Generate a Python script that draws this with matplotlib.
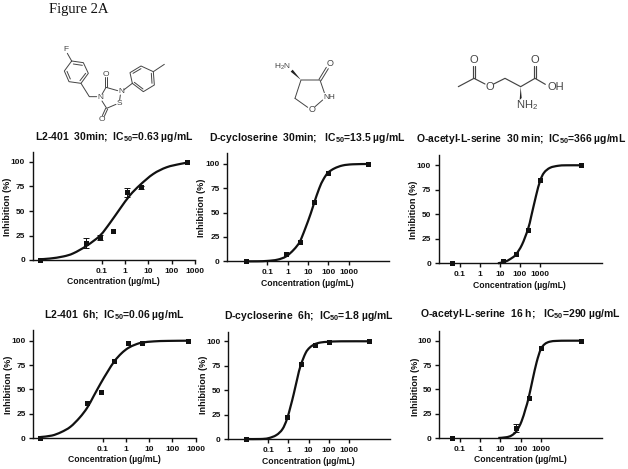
import numpy as np
import matplotlib
matplotlib.use("Agg")
import matplotlib.pyplot as plt
from matplotlib.path import Path
from matplotlib.patches import PathPatch

plt.rcParams["font.family"] = ["Liberation Sans", "DejaVu Sans"]
plt.rcParams["mathtext.fontset"] = "custom"
plt.rcParams["mathtext.bf"] = "Liberation Sans:bold"
plt.rcParams["mathtext.rm"] = "Liberation Sans"
plt.rcParams["mathtext.default"] = "bf"

W, H = 628, 469
INK = "#111111"

# ---------- data (log10 concentration, % inhibition) ----------
tick_values = [0.1, 1, 10, 100, 1000]
tick_labels = ["0.1", "1", "10", "100", "1000"]
y_ticks = [0, 25, 50, 75, 100]

titles = [
    "L2-401  30min;  IC$_{50}$=0.63 µg/mL",
    "D-cycloserine  30min;   IC$_{50}$=13.5 µg/mL",
    "O-acetyl-L-serine  30 min;  IC$_{50}$=366 µg/mL",
    "L2-401  6h;  IC$_{50}$=0.06 µg/mL",
    "D-cycloserine  6h;  IC$_{50}$=1.8 µg/mL",
    "O-acetyl-L-serine  16 h;   IC$_{50}$=290 µg/mL",
]

a_logx = [-3.65, -1.67, -1.07, -0.5, 0.1, 0.69, 2.67]
a_y = [0, 17, 23, 30, 69, 74, 100]
a_err = [0, 5, 3, 0, 4.5, 2, 0]
a_curve_x = [-3.65, -3.22, -2.65, -2.22, -1.64, -1.07, -0.64, -0.21, 0.21, 0.64, 1.21, 1.78, 2.36, 2.67]
a_curve_y = [0.8, 1.5, 3.6, 6.8, 14.6, 25, 38, 52.5, 66, 76.5, 87.8, 94.6, 98, 99.3]

b_logx = [-2.07, -0.08, 0.59, 1.3, 1.98, 3.97]
b_y = [0, 7, 20, 61, 91, 100]
b_err = [0, 0, 0, 0, 0, 0]
b_curve_x = [-2.07, -1.5, -1, -0.5, -0.08, 0.3, 0.59, 0.85, 1.13, 1.3, 1.55, 1.75, 1.98, 2.3, 2.7, 3.2, 3.97]
b_curve_y = [0, 0, 0.4, 1.7, 5, 12, 20, 33, 49, 60, 75, 84, 91, 95.5, 98.5, 99.7, 100]

c_logx = [-1.4, 1.17, 1.8, 2.4, 3.0, 5.02]
c_y = [0, 2, 9, 34, 85, 100]
c_err = [0, 0, 0, 0, 0, 0]
c_curve_x = [0.9, 1.3, 1.6, 1.8, 2.1, 2.4, 2.56, 2.8, 3.0, 3.2, 3.5, 3.9, 4.3, 5.02]
c_curve_y = [0, 2, 5.5, 9, 19, 35, 48, 69, 84, 92.5, 97.5, 99.5, 100, 100]

d_logx = [-3.69, -1.68, -1.1, -0.5, 0.09, 0.68, 2.67]
d_y = [0, 35.5, 47, 79, 98, 98, 100]
d_err = [0, 0, 0, 0, 0, 0, 0]
d_curve_x = [-3.69, -3.2, -2.8, -2.4, -2, -1.68, -1.4, -1.1, -0.8, -0.5, -0.2, 0.09, 0.4, 0.68, 1.2, 1.8, 2.67]
d_curve_y = [1, 2.5, 6, 11.5, 21, 31, 43, 56, 68, 79, 87, 92.5, 96, 98, 99.3, 99.8, 100]

e_logx = [-2.09, -0.08, 0.6, 1.3, 2.0, 4.0]
e_y = [0, 23, 77, 96, 99, 100]
e_err = [0, 0, 0, 0, 0, 0]
e_curve_x = [-2.09, -1.4, -1, -0.6, -0.3, -0.08, 0.1, 0.26, 0.45, 0.6, 0.85, 1.05, 1.3, 1.6, 2, 2.6, 4]
e_curve_y = [0, 0, 0.8, 4, 10, 20, 33, 46, 63, 75, 88, 93.5, 97, 98.8, 99.5, 100, 100]

f_logx = [-1.38, 1.8, 2.4, 3.0, 5.0]
f_y = [0, 10, 41, 93, 100]
f_err = [0, 4, 0, 0, 0]
f_curve_x = [0.9, 1.3, 1.55, 1.8, 2.05, 2.25, 2.4, 2.6, 2.8, 3.0, 3.2, 3.45, 3.8, 4.3, 5.0]
f_curve_y = [0, 0.8, 2.5, 7, 17, 30, 41, 60, 78, 91, 96.5, 99, 99.8, 100, 100]

series = [
    (a_logx, a_y, a_err, a_curve_x, a_curve_y),
    (b_logx, b_y, b_err, b_curve_x, b_curve_y),
    (c_logx, c_y, c_err, c_curve_x, c_curve_y),
    (d_logx, d_y, d_err, d_curve_x, d_curve_y),
    (e_logx, e_y, e_err, e_curve_x, e_curve_y),
    (f_logx, f_y, f_err, f_curve_x, f_curve_y),
]

# ---------- layout in pixels ----------
# left, right, y(0), y(100), top, log10 at left, log10 at right
frames = [
    (32.7, 195.0, 260.0, 162.0, 152.0, -3.96, 3.0),
    (227.3, 389.0, 261.3, 164.0, 153.3, -2.97, 4.98),
    (438.7, 601.7, 263.3, 165.3, 155.0, -2.05, 6.07),
    (33.3, 195.7, 438.0, 340.7, 330.0, -4.0, 3.0),
    (228.3, 390.0, 439.0, 341.3, 331.7, -2.98, 5.03),
    (439.3, 601.7, 438.0, 340.7, 330.7, -2.02, 6.02),
]
title_pos = [(114, 137), (307.5, 138), (521, 139), (114, 315), (309, 316), (520.5, 314)]
xlab_pos = [(113, 282), (307.7, 283), (519, 285), (114, 460), (308, 461), (520, 460)]
ylab_pos = [(8, 207), (201.7, 208), (414, 210), (9, 385), (203, 385), (415, 387)]

fig = plt.figure(figsize=(W / 100, H / 100), dpi=100, facecolor="white")

ov = fig.add_axes([0, 0, 1, 1], zorder=0)
ov.set_xlim(0, W)
ov.set_ylim(H, 0)
ov.axis("off")

ov.text(49, 9, "Figure 2A", family="Liberation Serif", fontsize=10.5, color=INK, va="center", ha="left")

for (fx, fy), t in zip(title_pos, titles):
    ov.text(fx, fy, t, fontsize=7.5, fontweight="bold", color=INK, ha="center", va="center")
for (fx, fy) in xlab_pos:
    ov.text(fx, fy, "Concentration (µg/mL)", fontsize=6.2, fontweight="bold", color=INK, ha="center", va="center")
for (fx, fy) in ylab_pos:
    ov.text(fx, fy, "Inhibition (%)", fontsize=6.6, fontweight="bold", color=INK, ha="center", va="center", rotation=90)


def smooth_line(ax, cx, cy):
    px = np.array(cx, float)
    py = np.array(cy, float)
    verts = [(10.0 ** px[0], py[0])]
    codes = [Path.MOVETO]
    n = len(px)
    for i in range(n - 1):
        p0 = max(i - 1, 0)
        p3 = min(i + 2, n - 1)
        c1x = px[i] + (px[i + 1] - px[p0]) / 6
        c1y = py[i] + (py[i + 1] - py[p0]) / 6
        c2x = px[i + 1] - (px[p3] - px[i]) / 6
        c2y = py[i + 1] - (py[p3] - py[i]) / 6
        verts += [(10.0 ** c1x, c1y), (10.0 ** c2x, c2y), (10.0 ** px[i + 1], py[i + 1])]
        codes += [Path.CURVE4] * 3
    ax.add_patch(PathPatch(Path(verts, codes), fc="none", ec=INK, lw=1.6, clip_on=False, zorder=3))


for (l, r, y0, y100, top, lx0, lx1), (lx, y, err, cx, cy) in zip(frames, series):
    ax = fig.add_axes([l / W, 1 - y0 / H, (r - l) / W, (y0 - top) / H], zorder=2)
    ax.patch.set_alpha(0)
    ax.set_xscale("log")
    ax.set_xlim(10.0 ** lx0, 10.0 ** lx1)
    ax.set_ylim(0, 100 * (y0 - top) / (y0 - y100))
    for s in ("top", "right"):
        ax.spines[s].set_visible(False)
    for s in ("left", "bottom"):
        ax.spines[s].set_linewidth(1.0)
        ax.spines[s].set_color(INK)
    ax.set_xticks(tick_values)
    ax.set_xticklabels(tick_labels)
    ax.minorticks_off()
    ax.set_yticks(y_ticks)
    ax.tick_params(axis="both", length=3, width=1.0, color=INK, labelsize=6, pad=2.5, labelcolor=INK)
    for lab in ax.get_xticklabels() + ax.get_yticklabels():
        lab.set_fontweight("bold")
    smooth_line(ax, cx, cy)
    ex = 10.0 ** np.array(lx)
    has = np.array(err) > 0
    if has.any():
        ax.errorbar(ex[has], np.array(y)[has], yerr=np.array(err)[has], fmt="none", ecolor=INK,
                    elinewidth=0.7, capsize=2, capthick=0.7, clip_on=False, zorder=3)
    ax.plot(ex, y, "s", color=INK, ms=3.6, mew=0, clip_on=False, zorder=4)

# ---------- decorative structural formulas (pixels) ----------
GREY = "#444444"


def bonds(pts, ox, oy, lw=0.7, scale=1 / 3):
    xs = [ox + p[0] * scale for p in pts]
    ys = [oy + p[1] * scale for p in pts]
    ov.plot(xs, ys, color=GREY, lw=lw, solid_capstyle="round")


def label(x, y, s, ox, oy, size=6, scale=1 / 3, family="Liberation Sans"):
    ov.text(ox + x * scale, oy + y * scale, s, fontsize=size, color=GREY, ha="center", va="center", family=family)


def wedge(p, q, ox, oy, w=5, scale=1 / 3):
    ov.fill([ox + p[0] * scale, ox + (q[0] - w * 0.6) * scale, ox + (q[0] + w * 0.6) * scale],
            [oy + p[1] * scale, oy + (q[1] + w * 0.6) * scale, oy + (q[1] - w * 0.6) * scale],
            color="#222222", lw=0)


# molecule 1
ox, oy = 55, 40
ring1 = [(50, 63), (85, 68), (100, 100), (78, 130), (42, 125), (28, 93), (50, 63)]
bonds(ring1, ox, oy)
bonds([(55, 72), (82, 76)], ox, oy)
bonds([(92, 100), (75, 122)], ox, oy)
bonds([(46, 117), (36, 94)], ox, oy)
bonds([(37, 40), (50, 63)], ox, oy)
bonds([(78, 130), (103, 170), (125, 170)], ox, oy)
bonds([(141, 163), (153, 142), (188, 152)], ox, oy)
bonds([(141, 183), (155, 205), (183, 193)], ox, oy)
bonds([(196, 165), (194, 180)], ox, oy)
bonds([(150, 142), (150, 112)], ox, oy)
bonds([(156, 142), (156, 112)], ox, oy)
bonds([(152, 205), (142, 227)], ox, oy)
bonds([(158, 207), (148, 229)], ox, oy)
bonds([(206, 150), (232, 130)], ox, oy)
ring2 = [(232, 130), (225, 98), (258, 78), (295, 95), (298, 135), (265, 155), (232, 130)]
bonds(ring2, ox, oy)
bonds([(234, 100), (258, 86)], ox, oy)
bonds([(289, 100), (291, 130)], ox, oy)
bonds([(238, 127), (264, 147)], ox, oy)
bonds([(295, 95), (328, 73)], ox, oy)
label(32, 28, "F", ox, oy)
label(135, 172, "N", ox, oy)
label(198, 155, "N", ox, oy)
label(193, 190, "S", ox, oy)
label(152, 102, "O", ox, oy)
label(140, 238, "O", ox, oy)

# molecule 2
ox, oy = 265, 50
wedge((108, 90), (80, 62), ox, oy)
bonds([(90, 145), (108, 90), (165, 90), (178, 128)], ox, oy)
bonds([(162, 88), (184, 52)], ox, oy)
bonds([(168, 92), (190, 56)], ox, oy)
bonds([(173, 150), (150, 170)], ox, oy)
bonds([(90, 145), (128, 172)], ox, oy)
label(52, 50, "H$\\mathrm{_2}$N", ox, oy, size=6)
label(195, 40, "O", ox, oy, size=6.5)
label(193, 143, "NH", ox, oy, size=6)
label(140, 178, "O", ox, oy, size=6.5)

# molecule 3
ox, oy = 450, 45
bonds([(25, 125), (72, 100), (105, 117)], ox, oy, lw=0.85)
bonds([(69, 100), (69, 62)], ox, oy, lw=0.85)
bonds([(75, 100), (75, 62)], ox, oy, lw=0.85)
bonds([(131, 117), (165, 100), (212, 125), (255, 100), (286, 118)], ox, oy, lw=0.85)
bonds([(252, 100), (252, 62)], ox, oy, lw=0.85)
bonds([(258, 100), (258, 62)], ox, oy, lw=0.85)
wedge((212, 125), (212, 162), ox, oy)
label(72, 45, "O", ox, oy, size=8)
label(118, 125, "O", ox, oy, size=8)
label(255, 45, "O", ox, oy, size=8)
label(316, 125, "OH", ox, oy, size=8)
label(232, 180, "NH$\\mathrm{_2}$", ox, oy, size=8)

fig.savefig("out.png", dpi=100)
